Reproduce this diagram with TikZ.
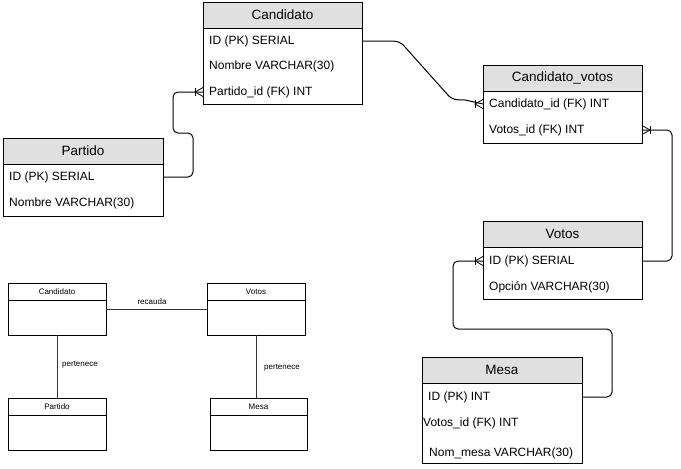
\documentclass[tikz,border=0pt]{standalone}
\usepackage{fontspec}
\setmainfont{Liberation Sans}
\definecolor{hdrgray}{HTML}{E0E0E0}
\begin{document}
\begin{tikzpicture}[x=1pt,y=-1pt,
  hdr/.style={draw, line width=1pt, fill=hdrgray, minimum height=26, inner sep=0, outer sep=0, anchor=north west, font=\fontsize{13.5}{16}\selectfont},
  bodybox/.style={draw, line width=1pt, fill=white, inner sep=0, outer sep=0, anchor=north west},
  row/.style={anchor=west, inner sep=0, font=\fontsize{12}{14}\selectfont},
  conn/.style={line width=1pt, rounded corners=5},
  shdr/.style={draw, line width=0.8pt, minimum height=17, inner sep=0, outer sep=0, anchor=north west, font=\fontsize{8}{10}\selectfont},
  sbody/.style={draw, line width=0.8pt, inner sep=0, outer sep=0, anchor=north west},
  slbl/.style={inner sep=0, font=\fontsize{8}{10}\selectfont},
  sline/.style={line width=0.7pt, draw=black!80},
  crow/.pic={\draw[line width=1pt] (-8,-4)--(-8,4); \draw[line width=0.8pt] (0,-4.5)--(-8,0)--(0,4.5);}
]
\useasboundingbox (0,0) rectangle (681,469);

% ---- Candidato
\node[hdr, minimum width=159] (cand) at (203,2) {Candidato};
\node[bodybox, minimum width=159, minimum height=76] (candb) at (cand.south west) {};
\node[row] (cand1) at (209,41) {ID (PK) SERIAL};
\node[row] (cand2) at (209,66) {Nombre VARCHAR(30)};
\node[row] (cand3) at (209,92) {Partido\_id (FK) INT};

% ---- Partido
\node[hdr, minimum width=160] (part) at (3,138) {Partido};
\node[bodybox, minimum width=160, minimum height=52] (partb) at (part.south west) {};
\node[row] (part1) at (9,177) {ID (PK) SERIAL};
\node[row] (part2) at (9,203) {Nombre VARCHAR(30)};

% ---- Candidato_votos
\node[hdr, minimum width=159] (cv) at (483,65) {Candidato\_votos};
\node[bodybox, minimum width=159, minimum height=52] (cvb) at (cv.south west) {};
\node[row] (cv1) at (489,104) {Candidato\_id (FK) INT};
\node[row] (cv2) at (489,130) {Votos\_id (FK) INT};

% ---- Votos
\node[hdr, minimum width=159] (vot) at (483,221) {Votos};
\node[bodybox, minimum width=159, minimum height=52] (votb) at (vot.south west) {};
\node[row] (vot1) at (489,261) {ID (PK) SERIAL};
\node[row] (vot2) at (489,287) {Opción VARCHAR(30)};

% ---- Mesa
\node[hdr, minimum width=160] (mesa) at (422,357) {Mesa};
\node[bodybox, minimum width=160, minimum height=80] (mesab) at (mesa.south west) {};
\node[row] (mesa1) at (428,397) {ID (PK) INT};
\node[row] (mesa2) at (423,423) {Votos\_id (FK) INT};
\node[row] (mesa3) at (429,453) {Nom\_mesa VARCHAR(30)};

% ---- connectors
\draw[line width=1pt] (candb.east |- cand1) -- ++(23,0)
   .. controls ++(12,0) and ++(-5,-6) .. ++(20,6)
   -- ++(42,47)
   .. controls ++(5,6) and ++(-9,0) .. ++(18,6)
   -- (cvb.west |- cv1);
\draw[conn] (partb.east |- part1) -- ++(30,0) -- ++(0,-44) -- ++(-20,0) |- (candb.west |- cand3);
\draw[conn] (cvb.east |- cv2) -- ++(30,0) |- (votb.east |- vot1);
\draw[conn] (mesab.east |- mesa1) -- ++(30,0) -- ++(0,-68) -- ++(-159,0) |- (votb.west |- vot1);

\pic at (candb.west |- cand3) {crow};
\pic at (cvb.west |- cv1) {crow};
\pic at (votb.west |- vot1) {crow};
\pic[xscale=-1] at (cvb.east |- cv2) {crow};

% ---- small diagram
\node[shdr, minimum width=98] (sc) at (8,283) {Candidato};
\node[sbody, minimum width=98, minimum height=35] (scb) at (sc.south west) {};
\node[shdr, minimum width=98] (sv) at (207,283) {Votos};
\node[sbody, minimum width=98, minimum height=35] (svb) at (sv.south west) {};
\node[shdr, minimum width=98] (sp) at (8,398) {Partido};
\node[sbody, minimum width=98, minimum height=35] (spb) at (sp.south west) {};
\node[shdr, minimum width=97] (sm) at (210,398) {Mesa};
\node[sbody, minimum width=97, minimum height=35] (smb) at (sm.south west) {};

\draw[sline] (scb.east |- 0,309) -- (svb.west |- 0,309);
\node[slbl] (lr) at (152,302) {recauda};
\draw[sline] (scb.south -| 57,0) -- (sp.north -| 57,0);
\node[slbl, anchor=west] (lp1) at (62,365) {pertenece};
\draw[sline] (svb.south -| 256,0) -- (sm.north -| 256,0);
\node[slbl, anchor=west] (lp2) at (264,368) {pertenece};
\end{tikzpicture}
\end{document}
